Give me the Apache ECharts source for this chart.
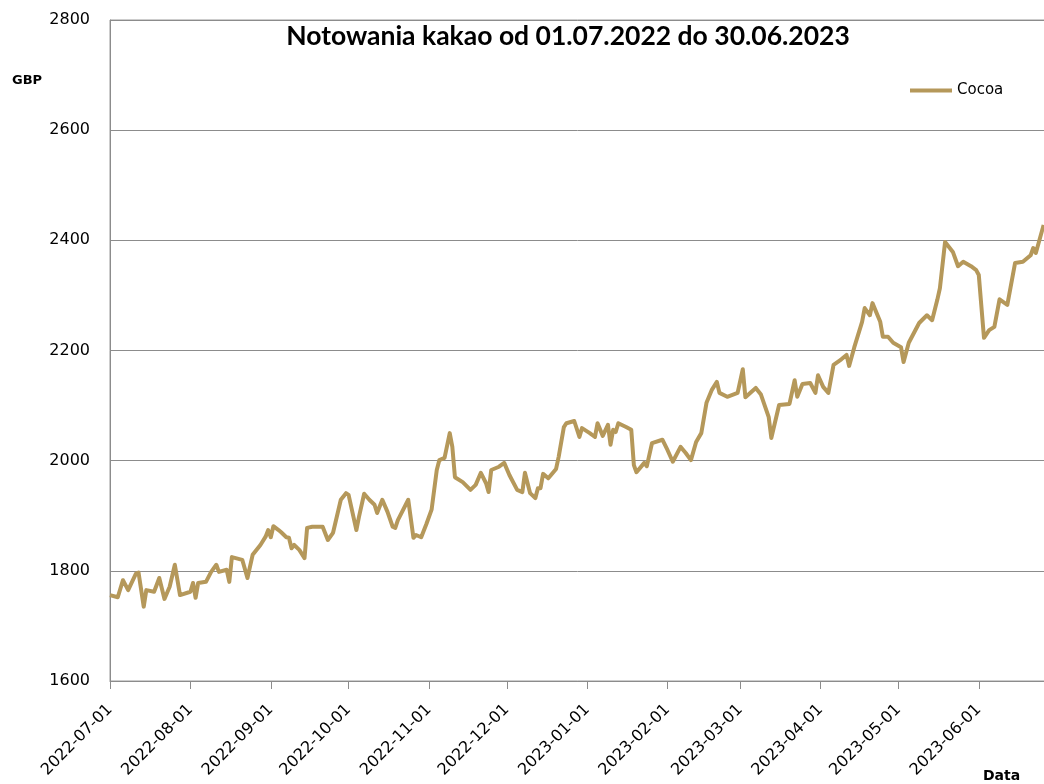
<!DOCTYPE html>
<html>
<head>
<meta charset="utf-8">
<script src="https://cdn.jsdelivr.net/npm/echarts@6/dist/echarts.min.js"></script>
<style>
  html, body { margin: 0; padding: 0; background: #fff; }
  #chart { width: 1044px; height: 784px; }
</style>
</head>
<body>
<div id="chart"></div>
<script>
// notowania (GBP)
var dates = [
  "2022-07-01","2022-07-04","2022-07-06","2022-07-08","2022-07-11","2022-07-12","2022-07-14","2022-07-15",
  "2022-07-18","2022-07-20","2022-07-22","2022-07-24","2022-07-26","2022-07-28","2022-08-01","2022-08-02",
  "2022-08-03","2022-08-04","2022-08-07","2022-08-09","2022-08-11","2022-08-12","2022-08-15","2022-08-16",
  "2022-08-17","2022-08-21","2022-08-23","2022-08-25","2022-08-28","2022-08-30","2022-08-31","2022-09-01",
  "2022-09-02","2022-09-04","2022-09-05","2022-09-07","2022-09-08","2022-09-09","2022-09-10","2022-09-12",
  "2022-09-14","2022-09-15","2022-09-17","2022-09-21","2022-09-23","2022-09-25","2022-09-28","2022-09-30",
  "2022-10-01","2022-10-04","2022-10-05","2022-10-07","2022-10-09","2022-10-11","2022-10-12","2022-10-14",
  "2022-10-16","2022-10-18","2022-10-19","2022-10-20","2022-10-24","2022-10-26","2022-10-27","2022-10-29",
  "2022-10-31","2022-11-02","2022-11-04","2022-11-05","2022-11-07","2022-11-09","2022-11-10","2022-11-11",
  "2022-11-14","2022-11-17","2022-11-19","2022-11-21","2022-11-23","2022-11-24","2022-11-25","2022-11-28",
  "2022-11-30","2022-12-02","2022-12-05","2022-12-07","2022-12-08","2022-12-10","2022-12-12","2022-12-13",
  "2022-12-14","2022-12-15","2022-12-17","2022-12-20","2022-12-21","2022-12-23","2022-12-24","2022-12-27",
  "2022-12-29","2022-12-30","2023-01-02","2023-01-04","2023-01-05","2023-01-07","2023-01-09","2023-01-10",
  "2023-01-11","2023-01-12","2023-01-13","2023-01-16","2023-01-18","2023-01-19","2023-01-20","2023-01-23",
  "2023-01-24","2023-01-26","2023-01-30","2023-02-01","2023-02-03","2023-02-06","2023-02-08","2023-02-10",
  "2023-02-12","2023-02-14","2023-02-16","2023-02-18","2023-02-20","2023-02-21","2023-02-24","2023-02-28",
  "2023-03-02","2023-03-03","2023-03-07","2023-03-09","2023-03-12","2023-03-13","2023-03-16","2023-03-20",
  "2023-03-22","2023-03-23","2023-03-25","2023-03-28","2023-03-30","2023-03-31","2023-04-02","2023-04-04",
  "2023-04-06","2023-04-09","2023-04-11","2023-04-12","2023-04-14","2023-04-17","2023-04-18","2023-04-20",
  "2023-04-21","2023-04-24","2023-04-25","2023-04-27","2023-04-29","2023-05-02","2023-05-03","2023-05-05",
  "2023-05-09","2023-05-12","2023-05-14","2023-05-16","2023-05-17","2023-05-19","2023-05-22","2023-05-24",
  "2023-05-26","2023-05-29","2023-05-31","2023-06-01","2023-06-03","2023-06-05","2023-06-07","2023-06-09",
  "2023-06-12","2023-06-15","2023-06-18","2023-06-21","2023-06-22","2023-06-23","2023-06-26"
];
var cocoa = [
  1756,1752,1783,1765,1795,1797,1735,1765,
  1762,1787,1749,1771,1811,1756,1762,1778,
  1751,1778,1780,1798,1811,1798,1802,1780,
  1825,1820,1787,1829,1847,1862,1874,1861,
  1881,1874,1870,1861,1860,1841,1847,1838,
  1823,1878,1880,1880,1856,1869,1929,1941,
  1938,1874,1898,1940,1929,1920,1905,1929,
  1907,1880,1878,1892,1929,1860,1865,1861,
  1885,1911,1983,2001,2005,2050,2025,1970,
  1961,1947,1956,1978,1959,1943,1983,1989,
  1996,1974,1947,1943,1978,1941,1932,1950,
  1950,1976,1968,1985,2007,2061,2068,2072,
  2043,2059,2050,2043,2068,2045,2065,2029,
  2056,2052,2068,2061,2056,1992,1979,1996,
  1990,2032,2038,2019,1998,2025,2014,2001,
  2034,2050,2105,2128,2143,2123,2116,2123,
  2166,2115,2132,2120,2079,2041,2101,2103,
  2146,2116,2139,2141,2123,2155,2134,2123,
  2174,2184,2192,2172,2206,2252,2277,2264,
  2286,2252,2225,2225,2214,2206,2179,2214,
  2250,2264,2255,2292,2313,2397,2379,2353,
  2361,2353,2346,2337,2223,2237,2243,2293,
  2283,2359,2361,2373,2386,2377,2428
];
var yTicks = [1600, 1800, 2000, 2200, 2400, 2600, 2800];

// kolejne dni kalendarzowe 01.07.2022 - 30.06.2023 (os dat jak w Excelu)
var days = [];
var d = new Date(Date.UTC(2022, 6, 1));
while (d <= new Date(Date.UTC(2023, 5, 30))) {
  days.push(d.toISOString().slice(0, 10));
  d.setUTCDate(d.getUTCDate() + 1);
}
var seriesData = days.map(function (day) {
  var i = dates.indexOf(day);
  return i >= 0 ? cocoa[i] : null;
});

var isMonthStart = function (idx, val) {
  return val.slice(8) === "01";
};

var chart = echarts.init(document.getElementById("chart"));
var option = {
  backgroundColor: "#fff",
  animation: false,
  title: {
    text: "Notowania kakao od 01.07.2022 do 30.06.2023",
    left: 563,
    top: 18,
    textAlign: "center",
    textStyle: {
      fontFamily: "Lato",
      fontWeight: "bold",
      fontSize: 26.5,
      color: "#000"
    }
  },
  legend: {
    data: ["Cocoa"],
    left: 905,
    top: 78,
    icon: "rect",
    itemWidth: 42,
    itemHeight: 4,
    textStyle: {
      fontFamily: "DejaVu Sans",
      fontSize: 15,
      color: "#000"
    }
  },
  graphic: [
    {
      type: "text",
      left: 12,
      top: 74,
      style: { text: "GBP", font: "bold 13px 'DejaVu Sans'", fill: "#000" }
    },
    {
      type: "text",
      left: 983,
      top: 769,
      style: { text: "Data", font: "bold 14px 'DejaVu Sans'", fill: "#000" }
    }
  ],
  grid: {
    left: 110,
    top: 20,
    width: 944,
    height: 661,
    outerBoundsMode: "none",
    show: true,
    borderColor: "#9a9a9a",
    borderWidth: 1
  },
  xAxis: {
    type: "category",
    data: days,
    boundaryGap: false,
    axisLine: { lineStyle: { color: "#8c8c8c", width: 1 } },
    axisTick: {
      interval: isMonthStart,
      length: 8,
      lineStyle: { color: "#8c8c8c" }
    },
    axisLabel: {
      interval: isMonthStart,
      rotate: 45,
      margin: 26,
      fontFamily: "DejaVu Sans",
      fontSize: 16,
      color: "#000"
    },
    splitLine: { show: false }
  },
  yAxis: {
    type: "value",
    min: yTicks[0],
    max: yTicks[yTicks.length - 1],
    interval: 200,
    axisLine: { show: true, lineStyle: { color: "#8c8c8c", width: 1 } },
    axisTick: { show: false },
    axisLabel: {
      margin: 20,
      fontFamily: "DejaVu Sans",
      fontSize: 16,
      color: "#000",
      formatter: function (v) { return String(v); }
    },
    splitLine: { lineStyle: { color: "#8c8c8c", width: 1 } }
  },
  series: [
    {
      name: "Cocoa",
      type: "line",
      data: seriesData,
      connectNulls: true,
      symbol: "none",
      lineStyle: { color: "#b5985a", width: 4, join: "round" },
      itemStyle: { color: "#b5985a" }
    }
  ]
};
chart.setOption(option);
</script>
</body>
</html>
